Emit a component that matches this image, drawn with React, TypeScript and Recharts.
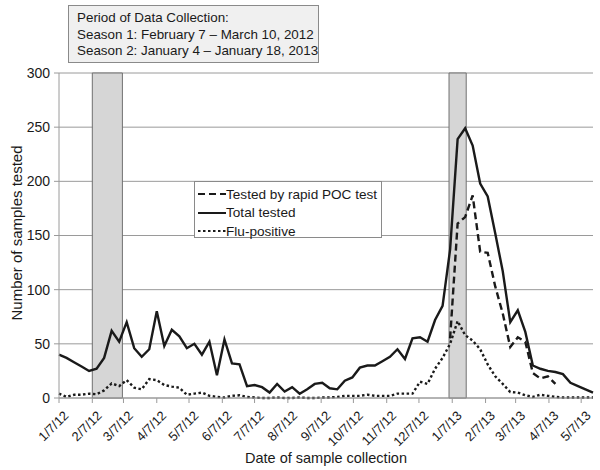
import React from 'react';
import { ComposedChart, Line, XAxis, YAxis, CartesianGrid, ReferenceArea, Legend } from 'recharts';

// Weekly sampling dates (M/D/YY)
const weekDates = [
  '1/7/12', '1/14/12', '1/21/12', '1/28/12', '2/4/12', '2/11/12', '2/18/12', '2/25/12', '3/3/12', '3/10/12',
  '3/17/12', '3/24/12', '3/31/12', '4/7/12', '4/14/12', '4/21/12', '4/28/12', '5/5/12', '5/12/12', '5/19/12',
  '5/26/12', '6/2/12', '6/9/12', '6/16/12', '6/23/12', '6/30/12', '7/7/12', '7/14/12', '7/21/12', '7/28/12',
  '8/4/12', '8/11/12', '8/18/12', '8/25/12', '9/1/12', '9/8/12', '9/15/12', '9/22/12', '9/29/12', '10/6/12',
  '10/13/12', '10/20/12', '10/27/12', '11/3/12', '11/10/12', '11/17/12', '11/24/12', '12/1/12', '12/8/12', '12/15/12',
  '12/22/12', '12/29/12', '1/5/13', '1/12/13', '1/19/13', '1/26/13', '2/2/13', '2/9/13', '2/16/13', '2/23/13',
  '3/2/13', '3/9/13', '3/16/13', '3/23/13', '3/30/13', '4/6/13', '4/13/13', '4/20/13', '4/27/13', '5/4/13',
  '5/11/13', '5/18/13',
];

const totalTested = [
  40, 37, 33, 29, 25, 27, 37, 62, 52, 70,
  46, 38, 45, 80, 48, 63, 57, 46, 50, 40,
  52, 21, 54, 32, 31, 11, 12, 10, 5, 13,
  6, 10, 4, 8, 13, 14, 9, 8, 16, 19,
  28, 30, 30, 34, 38, 45, 36, 55, 56, 52,
  72, 85, 137, 239, 249, 233, 198, 186, 152, 117,
  70, 81, 61, 30, 27, 25, 24, 22, 14, 11,
  8, 5,
];

const rapidPOC: (number | null)[] = [
  null, null, null, null, null, null, null, null, null, null,
  null, null, null, null, null, null, null, null, null, null,
  null, null, null, null, null, null, null, null, null, null,
  null, null, null, null, null, null, null, null, null, null,
  null, null, null, null, null, null, null, null, null, null,
  null, null, 55, 161, 167, 187, 135, 134, 103, 78,
  47, 56, 52, 23, 18, 20, 13, null, null, null,
  null, null,
];

const fluPositive = [
  4, 1, 3, 3, 4, 3.5, 7, 13.5, 11, 16.5,
  9.5, 8, 17.5, 16.5, 12, 10.5, 9.5, 3, 4, 5,
  2, 1, 0.5, 2, 2.5, 1, 0.5, 0, 0, 0.5,
  0, 0, 0.5, 0, 0, 0.5, 0.5, 1, 2, 2,
  2, 3, 2, 2, 2, 4, 4, 4, 15, 13,
  27, 37, 50, 71, 58, 53, 45, 31, 20, 13,
  5.5, 5, 2.5, 1, 3, 2, 1, 0.5, 0.5, 0.5,
  0.5, 0.5,
];

const monthTicks = [
  '1/7/12', '2/7/12', '3/7/12', '4/7/12', '5/7/12', '6/7/12', '7/7/12', '8/7/12', '9/7/12',
  '10/7/12', '11/7/12', '12/7/12', '1/7/13', '2/7/13', '3/7/13', '4/7/13', '5/7/13',
];
const yTicks = [0, 50, 100, 150, 200, 250, 300];

const seasonBands = [
  { start: '2/7/12', end: '3/6/12' },
  { start: '1/4/13', end: '1/20/13' },
];
const axisEnd = '5/18/13';

const periodLines = [
  'Period of Data Collection:',
  'Season 1: February 7 \u2013 March 10, 2012',
  'Season 2: January 4 \u2013 January 18, 2013',
];

const seriesInfo = [
  { key: 'poc', name: 'Tested by rapid POC test', dash: '7 4' },
  { key: 'total', name: 'Total tested', dash: undefined as string | undefined },
  { key: 'flu', name: 'Flu-positive', dash: '2.5 2.5' },
];

const FONT = "'Liberation Sans', Arial, sans-serif";
const INK = '#1a1a1a';

function toDay(s: string): number {
  const [m, d, y] = s.split('/').map(Number);
  return Math.round((Date.UTC(2000 + y, m - 1, d) - Date.UTC(2012, 0, 7)) / 86400000);
}

const data = weekDates.map((d, i) => ({
  day: toDay(d),
  total: totalTested[i],
  poc: rapidPOC[i],
  flu: fluPositive[i],
}));

const tickDays = monthTicks.map(toDay);
const tickLabel = new Map(monthTicks.map((t) => [toDay(t), t]));

const XTick = (props: any) => {
  const { x, y, payload } = props;
  const label = tickLabel.get(payload.value) ?? '';
  return (
    <g transform={`translate(${x + 4},${y + 5})`}>
      <text x={0} y={0} dy={9} textAnchor="end" transform="rotate(-45)" fontSize={13} fill={INK} fontFamily={FONT}>
        {label}
      </text>
    </g>
  );
};

const renderLegend = () => (
  <div
    style={{
      width: 188,
      height: 57,
      boxSizing: 'border-box',
      border: '1px solid #8a8a8a',
      background: '#fff',
      padding: '3px 0 0 3px',
      fontFamily: FONT,
      fontSize: 13.6,
      color: INK,
    }}
  >
    {seriesInfo.map((s) => (
      <div key={s.key} style={{ display: 'flex', alignItems: 'center', height: 18.5 }}>
        <svg width={28} height={10} style={{ display: 'block' }}>
          <line x1={0} y1={5} x2={28} y2={5} stroke={INK} strokeWidth={2} strokeDasharray={s.dash} />
        </svg>
        <span style={{ whiteSpace: 'nowrap' }}>{s.name}</span>
      </div>
    ))}
  </div>
);

const YTitle = () => (
  <text
    x={16}
    y={233}
    transform="rotate(-90 16 233)"
    textAnchor="middle"
    dominantBaseline="central"
    fontSize={15}
    fill={INK}
    fontFamily={FONT}
  >
    Number of samples tested
  </text>
);

export default function App() {
  return (
    <div style={{ position: 'absolute', left: 0, top: 0, width: 600, height: 470, background: '#fff', fontFamily: FONT }}>
      <ComposedChart
        width={600}
        height={470}
        data={data}
        margin={{ top: 73, right: 7, bottom: 0, left: 0 }}
      >
        <CartesianGrid vertical={false} stroke="#9a9a9a" strokeWidth={1} />
        {seasonBands.map((b, i) => (
          <ReferenceArea
            key={i}
            x1={toDay(b.start)}
            x2={toDay(b.end)}
            y1={0}
            y2={300}
            fill="#d6d6d6"
            fillOpacity={1}
            stroke="#707070"
            strokeWidth={1}
          />
        ))}
        <XAxis
          dataKey="day"
          type="number"
          domain={[0, toDay(axisEnd)]}
          ticks={tickDays}
          interval={0}
          height={72}
          tick={<XTick />}
          tickSize={5}
          axisLine={{ stroke: '#9a9a9a' }}
          tickLine={{ stroke: '#9a9a9a' }}
          label={{ value: 'Date of sample collection', position: 'insideBottom', offset: 7, fontSize: 14.5, fill: INK, fontFamily: FONT }}
        />
        <YAxis
          type="number"
          domain={[0, 300]}
          ticks={yTicks}
          width={59}
          tickSize={5}
          tickMargin={4}
          axisLine={{ stroke: '#9a9a9a' }}
          tickLine={{ stroke: '#9a9a9a' }}
          tick={{ fontSize: 14, fill: INK, fontFamily: FONT }}
          label={{ content: () => <YTitle /> }}
        />
        <Legend
          layout="vertical"
          align="center"
          verticalAlign="middle"
          content={renderLegend}
          wrapperStyle={{ left: 194, top: 181, width: 188 }}
        />
        <Line dataKey="total" name="Total tested" type="linear" stroke={INK} strokeWidth={2.4} dot={false} isAnimationActive={false} />
        <Line dataKey="poc" name="Tested by rapid POC test" type="linear" stroke={INK} strokeWidth={2.4} strokeDasharray="7 4" dot={false} connectNulls={false} isAnimationActive={false} />
        <Line dataKey="flu" name="Flu-positive" type="linear" stroke={INK} strokeWidth={2.4} strokeDasharray="2.5 2.5" dot={false} isAnimationActive={false} />
      </ComposedChart>
      <div
        style={{
          position: 'absolute',
          left: 68,
          top: 5,
          width: 251,
          height: 58,
          boxSizing: 'border-box',
          border: '1px solid #8a8a8a',
          background: '#f0f0f0',
          padding: '4px 0 0 8px',
          fontFamily: FONT,
          fontSize: 13.4,
          lineHeight: '16.5px',
          color: INK,
          whiteSpace: 'nowrap',
        }}
      >
        {periodLines.map((l, i) => (
          <div key={i}>{l}</div>
        ))}
      </div>
    </div>
  );
}
